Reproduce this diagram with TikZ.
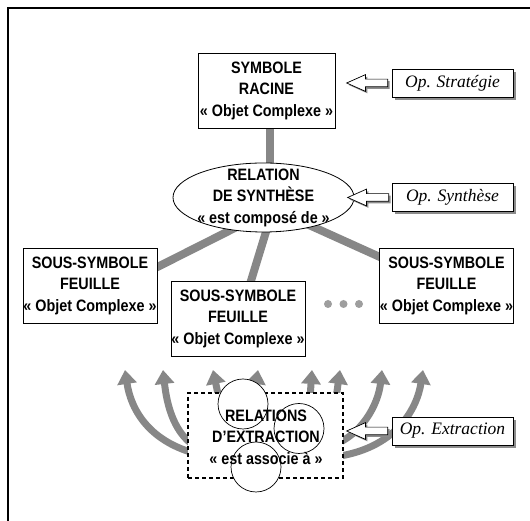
\documentclass[tikz,border=0pt]{standalone}
\usepackage{fontspec}
\newfontfamily\arialfont[FakeStretch = 0.87]{Liberation Sans}
\newfontfamily\timesfont{Liberation Serif}
\usepackage{xcolor}
\usetikzlibrary{arrows.meta, shapes.geometric, shapes.arrows, shadows, backgrounds, calc, positioning}
\definecolor{linkgray}{gray}{0.53}
\definecolor{dotgray}{gray}{0.62}
\tikzset{> = { Triangle[length = 14pt, width = 19pt] }}
\tikzset{
	symfont/.style = {align = center, font = \arialfont\bfseries\fontsize{16.5}{21.5}\selectfont},
	symbox/.style = {symfont, draw, fill = white, line width = 0.8pt, inner sep = 0pt, minimum width = 134pt, minimum height = 75pt},
	link/.style = {draw = linkgray, line width = 8pt},
	extarrow/.style = {->, draw = linkgray, line width = 7pt},
	opbox/.style = {draw, fill = white, line width = 0.7pt, inner sep = 0pt, minimum width = 121pt, minimum height = 28pt,
		font = \timesfont\itshape\fontsize{17.5}{20}\selectfont,
		drop shadow = {shadow xshift = 3pt, shadow yshift = -3pt, fill = black!45, opacity = 1}},
	hollow/.style = {single arrow, draw, fill = white, line width = 0.7pt, shape border rotate = 180,
		inner xsep = 0pt, inner ysep = 3.5pt, single arrow head extend = 4.5pt, single arrow tip angle = 48, minimum height = 41pt,
		drop shadow = {shadow xshift = 2pt, shadow yshift = -2pt, fill = black!45, opacity = 1}},
	ring/.style = {draw, circle, fill = white, line width = 0.7pt, minimum size = 50pt, inner sep = 0pt}
}

\begin{document}
\begin{tikzpicture}[x = 1pt, y = 1pt]
		\useasboundingbox (0, 0) rectangle (530, 521);
		\draw [line width = 1.3pt] (8, 0) -- (8, 513) -- (530, 513);

		\node [symbox, minimum width = 137pt] (root) at (266.5, 430.5) {SYMBOLE\\RACINE\\« Objet Complexe »};
		\node [symbox, ellipse, inner xsep = -12pt, inner ysep = -6pt, minimum width = 181pt, minimum height = 69pt] (syn) at (263.5, 323.5) {RELATION\\DE SYNTHÈSE\\« est composé de »};
		\node [symbox] (leafL) at (90, 235.5) {SOUS-SYMBOLE\\FEUILLE\\« Objet Complexe »};
		\node [symbox] (leafM) at (238, 202.5) {SOUS-SYMBOLE\\FEUILLE\\« Objet Complexe »};
		\node [symbox, minimum width = 133pt] (leafR) at (446.5, 235.5) {SOUS-SYMBOLE\\FEUILLE\\« Objet Complexe »};
		\foreach \dx in {0, 15.5, 31}
			\fill [dotgray] (328 + \dx, 217) circle (4pt);

		\node [draw, fill = white, line width = 1.2pt, dash pattern = on 4pt off 3pt, minimum width = 155pt, minimum height = 85pt] (ext) at (265.5, 85.5) {};
		\node [ring] (c1) at (243, 117) {};
		\node [ring] (c2) at (299, 92.5) {};
		\node [ring] (c3) at (256, 54) {};
		\node [symfont] (extlabel) at (266, 84) {RELATIONS\\D’EXTRACTION\\« est associe à »};

		\node [hollow] (arS) at (371.5, 438) {};
		\node [hollow] (arY) at (372.5, 323.5) {};
		\node [hollow] (arE) at (371.5, 90) {};
		\node [opbox] (opS) at (452.5, 438) {Op. Stratégie};
		\node [opbox] (opY) at (452.5, 323.5) {Op. Synthèse};
		\node [opbox] (opE) at (452.5, 90) {Op. Extraction};

		\foreach \i/\x in {1/125, 2/163, 3/213, 4/258, 5/312, 6/340, 7/382, 8/423}
			\coordinate (tip\i) at (\x, 151);

		\begin{scope}[on background layer]
			\draw [link] ([xshift = 3pt]root.center) -- ([xshift = 3pt]root.center |- syn.center);
			\draw [link] ($(syn.center) + (0, -16)$) -- ($(leafL.north east) + (-15, -27)$);
			\draw [link] ($(syn.center) + (13, 0)$) -- ($(leafM.north) + (10, -10)$);
			\draw [link] ($(syn.center) + (0, -7)$) -- ($(leafR.north west) + (15, -16)$);

			\draw [extarrow] ($(ext.west) + (12, -19)$) .. controls +(-50, 12) and +(6, -40) .. (tip1);
			\draw [extarrow] ($(ext.west) + (12, -13.5)$) .. controls +(-25, 13) and +(4, -36) .. (tip2);
			\draw [extarrow] ($(c1) + (-24, 5)$) -- (tip3);
			\draw [extarrow] ($(c1) + (11, 8)$) -- (tip4);
			\draw [extarrow] ($(ext.north) + (44.5, -6)$) -- (tip5);
			\draw [extarrow] ($(ext.north) + (70.5, -6)$) -- (tip6);
			\draw [extarrow] ($(ext.east) + (-10, -9.5)$) .. controls +(27, 10) and +(-4, -36) .. (tip7);
			\draw [extarrow] ($(ext.east) + (-10, -21.5)$) .. controls +(62, 8) and +(-6, -39) .. (tip8);
		\end{scope}
	\end{tikzpicture}
\end{document}
